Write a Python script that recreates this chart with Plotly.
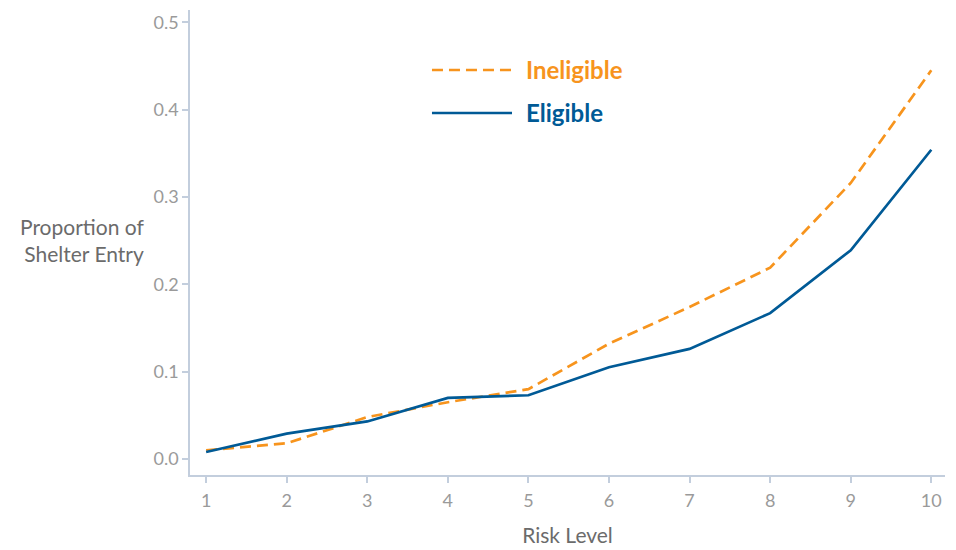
import plotly.graph_objects as go

risk_levels = [1, 2, 3, 4, 5, 6, 7, 8, 9, 10]
ineligible = [0.010, 0.018, 0.048, 0.065, 0.080, 0.132, 0.174, 0.219, 0.316, 0.445]
eligible = [0.008, 0.029, 0.043, 0.070, 0.073, 0.105, 0.126, 0.167, 0.239, 0.354]
y_ticks = [0.0, 0.1, 0.2, 0.3, 0.4, 0.5]

ORANGE = "#F7941D"
BLUE = "#005A96"
AXIS = "#C3CEDD"
FONT = "Lato"

fig = go.Figure()
fig.add_trace(go.Scatter(x=risk_levels, y=ineligible, mode="lines", name="Ineligible",
                         line=dict(color=ORANGE, width=2.7, dash="11px,6px")))
fig.add_trace(go.Scatter(x=risk_levels, y=eligible, mode="lines", name="Eligible",
                         line=dict(color=BLUE, width=2.7)))

fig.update_layout(
    width=948, height=542,
    margin=dict(l=182, r=11, t=2, b=75),
    paper_bgcolor="white", plot_bgcolor="white",
    showlegend=False,
    font=dict(family=FONT, color="#999999", size=18),
)
fig.update_xaxes(
    range=[0.80, 10.17], tickvals=risk_levels, showgrid=False, zeroline=False,
    showline=True, linecolor=AXIS, linewidth=1.5,
    ticks="outside", ticklen=6, tickcolor=AXIS, tickwidth=1.5,
    tickfont=dict(size=18, color="#9a9a9a"), ticklabelstandoff=3,
    title=dict(text="Risk Level", font=dict(size=21, color="#6b6b6b"), standoff=18),
)
fig.update_yaxes(
    range=[-0.0183, 0.514], tickvals=y_ticks, ticktext=[f"{v:.1f}" for v in y_ticks],
    showgrid=False, zeroline=False,
    showline=True, linecolor=AXIS, linewidth=1.5,
    ticks="outside", ticklen=6, tickcolor=AXIS, tickwidth=1.5,
    tickfont=dict(size=18, color="#9a9a9a"),
)

# y-axis title (horizontal, two lines)
fig.add_annotation(xref="paper", yref="paper", x=-0.058, y=0.505,
                   text="Proportion of<br>Shelter Entry", showarrow=False,
                   xanchor="right", yanchor="middle", align="right",
                   font=dict(family=FONT, size=21, color="#6b6b6b"))

# manual legend
legend_items = [("Ineligible", ORANGE, "11px,6px", 0.871), ("Eligible", BLUE, "solid", 0.7785)]
for name, color, dash, ly in legend_items:
    fig.add_shape(type="line", xref="paper", yref="paper", x0=0.3205, x1=0.4265, y0=ly, y1=ly,
                  line=dict(color=color, width=2.5, dash=dash))
    fig.add_annotation(xref="paper", yref="paper", x=0.4424, y=ly, text=f"<b>{name}</b>",
                       showarrow=False, xanchor="left", yanchor="middle",
                       font=dict(family=FONT, size=24, color=color))

fig.write_html("out.html")
